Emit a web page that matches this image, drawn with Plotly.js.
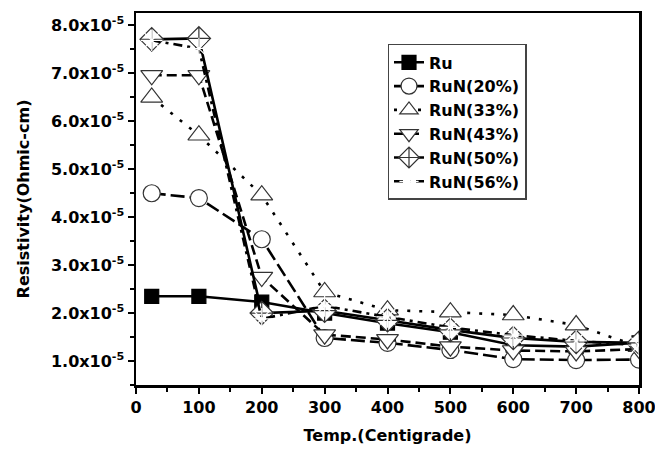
<!DOCTYPE html>
<html>
<head>
<meta charset="utf-8">
<script src="https://cdn.plot.ly/plotly-3.0.1.min.js"></script>
<style>html,body{margin:0;padding:0;background:#fff;}#chart{width:655px;height:449px;}</style>
</head>
<body>
<div id="chart"></div>
<script>
// Temperature (Centigrade)
const temps = [25, 100, 200, 300, 400, 500, 600, 700, 800];
// Resistivity (Ohmic-cm)
const ru     = [2.35e-5, 2.35e-5, 2.23e-5, 2.00e-5, 1.79e-5, 1.60e-5, 1.33e-5, 1.30e-5, 1.38e-5];
const run20  = [4.50e-5, 4.40e-5, 3.54e-5, 1.48e-5, 1.38e-5, 1.23e-5, 1.04e-5, 1.02e-5, 1.03e-5];
const run33  = [6.50e-5, 5.71e-5, 4.46e-5, 2.44e-5, 2.06e-5, 2.02e-5, 1.96e-5, 1.75e-5, 1.30e-5];
const run43  = [6.96e-5, 6.96e-5, 2.75e-5, 1.55e-5, 1.45e-5, 1.30e-5, 1.22e-5, 1.20e-5, 1.25e-5];
const run50  = [7.71e-5, 7.73e-5, 2.00e-5, 2.05e-5, 1.85e-5, 1.65e-5, 1.48e-5, 1.40e-5, 1.38e-5];
const run56  = [7.69e-5, 7.52e-5, 1.88e-5, 2.15e-5, 1.92e-5, 1.70e-5, 1.54e-5, 1.42e-5, 1.33e-5];
const names  = ["Ru", "RuN(20%)", "RuN(33%)", "RuN(43%)", "RuN(50%)", "RuN(56%)"];
const xTickVals = [0, 100, 200, 300, 400, 500, 600, 700, 800];
const yTickVals = [1e-5, 2e-5, 3e-5, 4e-5, 5e-5, 6e-5, 7e-5, 8e-5];
const yTickText = ["1.0x10<sup>-5</sup>", "2.0x10<sup>-5</sup>", "3.0x10<sup>-5</sup>", "4.0x10<sup>-5</sup>",
                   "5.0x10<sup>-5</sup>", "6.0x10<sup>-5</sup>", "7.0x10<sup>-5</sup>", "8.0x10<sup>-5</sup>"];

const series = [ru, run20, run33, run43, run50, run56];
const symbols = ["square", "circle", "triangle-up", "triangle-down", "diamond-cross", "asterisk-open"];
const dashes  = ["solid", "14px,5px", "3px,9px", "10px,5px", "solid", "9px,5px,3px,5px"];
const sizes   = [14, 17, 19, 19, 18, 18];
const fills   = ["#000", "#fff", "#fff", "#fff", "#fff", "#fff"];

const traces = series.map((ys, i) => ({
  x: temps, y: ys, name: names[i], type: "scatter", mode: "lines+markers",
  line: {color: "#000", width: 2.6, dash: dashes[i]},
  marker: {symbol: symbols[i], size: sizes[i], color: fills[i],
           line: {color: i === 0 ? "#000" : "#333", width: 1.2}}
}));

const fontFam = "DejaVu Sans, Verdana, sans-serif";
const tf = {family: fontFam, size: 16, color: "#000", weight: "bold"};
const layout = {
  width: 655, height: 449,
  margin: {l: 136, r: 16, t: 13, b: 64},
  paper_bgcolor: "#fff", plot_bgcolor: "#fff",
  showlegend: true,
  font: tf,
  xaxis: {
    range: [0, 800], tickvals: xTickVals, ticklabeloverflow: "allow",
    ticks: "outside", ticklen: 6, tickwidth: 2, tickcolor: "#000",
    minor: {dtick: 50, ticks: "outside", ticklen: 4, tickwidth: 2, tickcolor: "#000"},
    showline: true, linewidth: 2.5, linecolor: "#000", mirror: true,
    showgrid: false, zeroline: false,
    tickfont: tf,
    title: {text: "Temp.(Centigrade)", font: tf, standoff: 14}
  },
  yaxis: {
    range: [0.5e-5, 8.26e-5], tickvals: yTickVals, ticktext: yTickText,
    ticks: "outside", ticklen: 6, tickwidth: 2, tickcolor: "#000",
    minor: {dtick: 0.5e-5, tick0: 0, ticks: "outside", ticklen: 4, tickwidth: 2, tickcolor: "#000"},
    showline: true, linewidth: 2.5, linecolor: "#000", mirror: true,
    showgrid: false, zeroline: false,
    tickfont: tf,
    title: {text: "Resistivity(Ohmic-cm)", font: tf, standoff: 18}
  },
  legend: {
    x: 0.5, y: 0.917, xanchor: "left", yanchor: "top",
    bgcolor: "#fff", bordercolor: "#444", borderwidth: 1.5,
    font: tf, tracegroupgap: 0, itemwidth: 30
  }
};

Plotly.newPlot("chart", traces, layout, {staticPlot: true, displayModeBar: false});
</script>
</body>
</html>
